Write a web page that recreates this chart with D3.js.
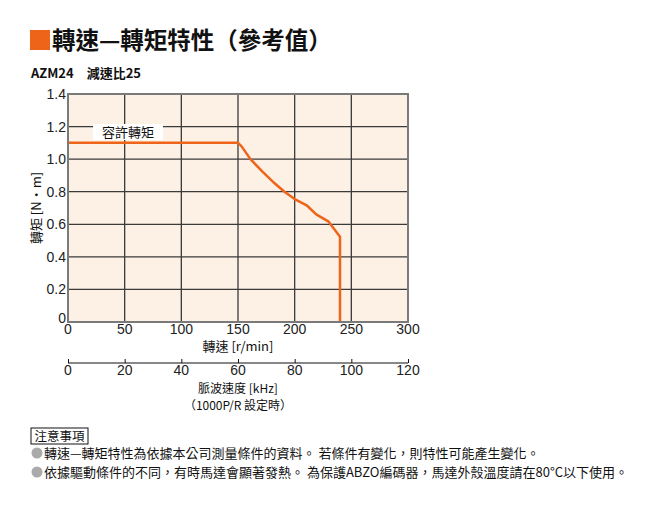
<!DOCTYPE html>
<html><head><meta charset="utf-8">
<script src="https://cdn.jsdelivr.net/npm/d3@7/dist/d3.min.js"></script>
<style>
body{margin:0;background:#fff;}
text{font-family:"Liberation Sans Narrow","Liberation Sans",Arial,sans-serif;}
.cjk{font-family:"Noto Sans CJK TC",sans-serif;}
</style></head><body>
<svg id="c" width="652" height="508"></svg>
<script>
const speedTicks=[0,50,100,150,200,250,300];
const torqueTicks=[0,0.2,0.4,0.6,0.8,1.0,1.2,1.4];
const pulseTicks=[0,20,40,60,80,100,120];
const curveSpeed=[0,150,153,161,172,181,191,200,211,219,230,240,240];
const curveTorque=[1.1,1.1,1.08,1.0,0.92,0.86,0.80,0.755,0.714,0.661,0.616,0.524,0];
const notes=["轉速—轉矩特性為依據本公司測量條件的資料。 若條件有變化，則特性可能產生變化。",
"依據驅動條件的不同，有時馬達會顯著發熱。 為保護ABZO編碼器，馬達外殼溫度請在80°C以下使用。"];

const svg=d3.select("#c");
const L=68,R=408,T=94,B=322;
const x=d3.scaleLinear().domain([0,300]).range([L,R]);
const y=d3.scaleLinear().domain([0,1.4]).range([B,T]);
const x2=d3.scaleLinear().domain([0,120]).range([L,R]);

// title
svg.append("rect").attr("x",30).attr("y",30).attr("width",20).attr("height",20).attr("fill","#ee6419");
svg.append("text").attr("class","cjk").attr("x",52).attr("y",49).attr("font-size",23.5).attr("font-weight","bold").attr("fill","#111").text("轉速—轉矩特性（參考值）");
svg.append("text").attr("class","cjk").attr("x",31).attr("y",78).attr("font-size",13).attr("font-weight","bold").attr("fill","#111").text("AZM24　減速比25");

// plot bg
svg.append("rect").attr("x",L).attr("y",T).attr("width",R-L).attr("height",B-T).attr("fill","#fdf0e4");
// grid
svg.append("g").selectAll("line").data(speedTicks.slice(1,-1)).join("line")
 .attr("x1",d=>x(d)).attr("x2",d=>x(d)).attr("y1",T).attr("y2",B).attr("stroke","#3a3a3a").attr("stroke-width",1.3);
svg.append("g").selectAll("line").data(torqueTicks.slice(1,-1)).join("line")
 .attr("y1",d=>y(d)).attr("y2",d=>y(d)).attr("x1",L).attr("x2",R).attr("stroke","#3a3a3a").attr("stroke-width",1.3);

// label with white bg
const lab=svg.append("g");
lab.append("rect").attr("x",93).attr("y",124).attr("width",70).attr("height",16).attr("fill","#fff");
lab.append("text").attr("class","cjk").attr("x",128).attr("y",137).attr("text-anchor","middle").attr("font-size",13).attr("fill","#111").text("容許轉矩");

// curve
const line=d3.line().x((d,i)=>x(curveSpeed[i])).y((d,i)=>y(curveTorque[i]));
svg.append("path").attr("d",line(curveSpeed)).attr("fill","none").attr("stroke","#ee6419").attr("stroke-width",2.5).attr("stroke-linejoin","round");

// border
svg.append("rect").attr("x",L).attr("y",T).attr("width",R-L).attr("height",B-T).attr("fill","none").attr("stroke","#7a7a7a").attr("stroke-width",2);

// y axis labels
svg.append("g").selectAll("text").data(torqueTicks).join("text")
 .attr("x",L-2).attr("y",d=>y(d)+(d===0?1:5)).attr("text-anchor","end").attr("font-size",14).attr("fill","#222")
 .text(d=>d===0?"0":d3.format(".1f")(d));
// x axis labels
svg.append("g").selectAll("text").data(speedTicks).join("text")
 .attr("x",d=>x(d)).attr("y",B+12).attr("text-anchor","middle").attr("font-size",14).attr("fill","#222").text(d=>d);
svg.append("text").attr("class","cjk").attr("x",238).attr("y",351).attr("text-anchor","middle").attr("font-size",13).attr("fill","#111").text("轉速 [r/min]");
svg.append("text").attr("class","cjk").attr("transform","translate(41,208) rotate(-90)").attr("text-anchor","middle").attr("font-size",13).attr("fill","#111").text("轉矩 [N·m]");

// second axis
const ax2=d3.axisTop(x2).tickValues(pulseTicks).tickSize(4).tickFormat("");
const g2=svg.append("g").attr("transform","translate(0,363)").call(ax2);
g2.select(".domain").attr("stroke","#111").attr("stroke-width",1.2).attr("d",`M${L},0H${R}`);
g2.selectAll(".tick line").attr("stroke","#111");
svg.append("g").selectAll("text").data(pulseTicks).join("text")
 .attr("x",d=>x2(d)).attr("y",374.5).attr("text-anchor","middle").attr("font-size",14).attr("fill","#222").text(d=>d);
svg.append("text").attr("class","cjk").attr("x",238).attr("y",392.5).attr("text-anchor","middle").attr("font-size",12).attr("fill","#111").text("脈波速度 [kHz]");
svg.append("text").attr("class","cjk").attr("x",238).attr("y",410).attr("text-anchor","middle").attr("font-size",12).attr("fill","#111").text("（1000P/R 設定時）");

// notes
svg.append("rect").attr("x",31).attr("y",428).attr("width",57).attr("height",16).attr("fill","#fff").attr("stroke","#111").attr("stroke-width",1);
svg.append("text").attr("class","cjk").attr("x",59.5).attr("y",440.5).attr("text-anchor","middle").attr("font-size",12.5).attr("fill","#111").text("注意事項");
notes.forEach((n,i)=>{
  const yy=453+i*19;
  svg.append("circle").attr("cx",37).attr("cy",yy).attr("r",5.5).attr("fill","#aaa");
  svg.append("text").attr("class","cjk").attr("x",44).attr("y",yy+4.5).attr("font-size",13).attr("fill","#111").text(n);
});
</script></body></html>
